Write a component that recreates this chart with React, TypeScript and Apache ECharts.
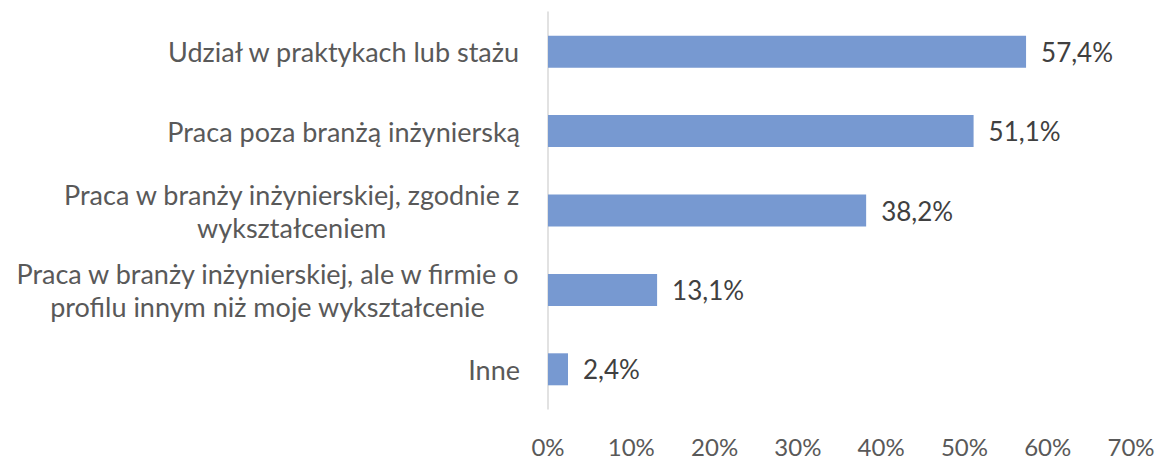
import React, { useEffect, useRef } from "react";
import * as echarts from "echarts";

const categories = [
  "Udział w praktykach lub stażu",
  "Praca poza branżą inżynierską",
  "Praca w branży inżynierskiej, zgodnie z\nwykształceniem",
  "Praca w branży inżynierskiej, ale w firmie o\nprofilu innym niż moje wykształcenie",
  "Inne",
];
const values = [57.4, 51.1, 38.2, 13.1, 2.4];
const axisMax = 70;
const axisStep = 10;

export default function App() {
  const ref = useRef<HTMLDivElement>(null);
  useEffect(() => {
    if (!ref.current) return;
    const chart = echarts.init(ref.current, null, { renderer: "svg" });
    const font = "Lato";
    chart.setOption({
      animation: false,
      backgroundColor: "#ffffff",
      grid: { left: 548, right: 28, top: 12, bottom: 50, containLabel: false },
      xAxis: {
        type: "value",
        min: 0,
        max: axisMax,
        interval: axisStep,
        axisLine: { show: false },
        axisTick: { show: false },
        splitLine: { show: false },
        axisLabel: {
          formatter: (v: number) => `${v}%`,
          color: "#595959",
          fontSize: 24,
          lineHeight: 24,
          fontFamily: font,
          margin: 25,
        },
      },
      yAxis: {
        type: "category",
        inverse: true,
        data: categories,
        axisLine: { show: true, lineStyle: { color: "#d9d9d9", width: 1.5 } },
        axisTick: { show: false },
        axisLabel: {
          margin: 28,
          align: "right",
          color: "#595959",
          fontSize: 27,
          fontFamily: font,
          lineHeight: 33,
          formatter: (v: string) =>
            v
              .split("\n")
              .map((l) => `{c|${l}}`)
              .join("\n"),
          rich: {
            c: {
              align: "center",
              color: "#595959",
              fontSize: 27,
              fontFamily: font,
              lineHeight: 33,
            },
          },
        },
      },
      series: [
        {
          type: "bar",
          data: values,
          barWidth: 32,
          itemStyle: { color: "#7799d1" },
          label: {
            show: true,
            position: "right",
            distance: 15,
            color: "#404040",
            fontSize: 26,
            fontFamily: font,
            formatter: (p: any) => `${String(p.value).replace(".", ",")}%`,
          },
        },
      ],
    });
    return () => chart.dispose();
  }, []);
  return (
    <div
      ref={ref}
      style={{ position: "fixed", left: 0, top: 0, width: 1159, height: 459 }}
    />
  );
}
